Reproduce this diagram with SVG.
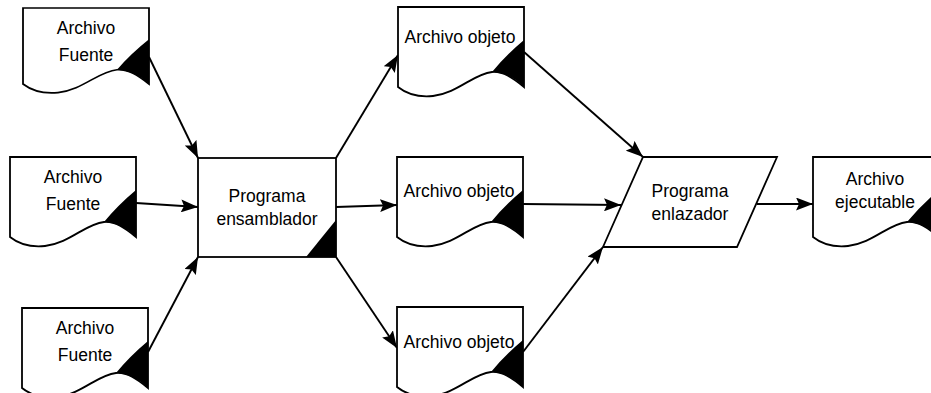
<svg xmlns="http://www.w3.org/2000/svg" width="931" height="393" viewBox="0 0 931 393">
  <style>
    .shape { fill: #ffffff; stroke: #000000; stroke-width: 1.8; }
    .mark { fill: #000000; stroke: none; }
    .label { font-family: "Liberation Sans", Arial, sans-serif; font-size: 17.5px; fill: #000000; text-anchor: middle; }
    .edge { fill: none; stroke: #000000; stroke-width: 1.9; marker-end: url(#arrow); }
  </style>
  <defs>
    <!-- document symbol: flat top, wavy bottom, 126 x 80 -->
    <path id="doc" d="M0,0 H126 V80 C115,71 105,64 94,65 C75,67 60,86 35,89 C15,91 5,84 0,80 Z"/>
    <!-- black corner flag of the document symbol -->
    <path id="docFlag" d="M126,33 Q108,48 94,65 Q112,66 126,80 Z"/>
    <marker id="arrow" markerUnits="userSpaceOnUse" markerWidth="18" markerHeight="13" refX="17" refY="6.5" orient="auto">
      <path d="M0,0 L17,6.5 L0,13 L3,6.5 Z" fill="#000000"/>
    </marker>
  </defs>

  <g id="connectors">
    <line class="edge" x1="149" y1="57" x2="198" y2="158"/>
    <line class="edge" x1="136" y1="203" x2="198" y2="207"/>
    <line class="edge" x1="148" y1="352" x2="198" y2="257"/>
    <line class="edge" x1="336" y1="158" x2="398" y2="55"/>
    <line class="edge" x1="336" y1="207" x2="397" y2="205"/>
    <line class="edge" x1="336" y1="257" x2="397" y2="348"/>
    <line class="edge" x1="524" y1="52" x2="643" y2="157"/>
    <line class="edge" x1="523" y1="204" x2="621" y2="205"/>
    <line class="edge" x1="523" y1="352" x2="603" y2="247"/>
    <line class="edge" x1="757" y1="204" x2="813" y2="204"/>
  </g>

  <g id="fuente1" transform="translate(23,8)">
    <g transform="scale(1,0.95)">
      <use href="#doc" class="shape"/>
      <use href="#docFlag" class="mark"/>
    </g>
    <text class="label" x="63" y="26">Archivo</text>
    <text class="label" x="63" y="53">Fuente</text>
  </g>

  <g id="fuente2" transform="translate(10,157)">
    <use href="#doc" class="shape"/>
    <use href="#docFlag" class="mark"/>
    <text class="label" x="63" y="26">Archivo</text>
    <text class="label" x="63" y="53">Fuente</text>
  </g>

  <g id="fuente3" transform="translate(22,308)">
    <use href="#doc" class="shape"/>
    <use href="#docFlag" class="mark"/>
    <text class="label" x="63" y="26">Archivo</text>
    <text class="label" x="63" y="53">Fuente</text>
  </g>

  <g id="ensamblador">
    <rect class="shape" x="198" y="158" width="138" height="99"/>
    <path class="mark" d="M336,220 V257 H306 Z"/>
    <text class="label" x="267" y="202">Programa</text>
    <text class="label" x="267" y="225">ensamblador</text>
  </g>

  <g id="objeto1" transform="translate(398,7)">
    <use href="#doc" class="shape"/>
    <use href="#docFlag" class="mark"/>
    <text class="label" x="62" y="36">Archivo objeto</text>
  </g>

  <g id="objeto2" transform="translate(397,157)">
    <use href="#doc" class="shape"/>
    <use href="#docFlag" class="mark"/>
    <text class="label" x="62" y="40">Archivo objeto</text>
  </g>

  <g id="objeto3" transform="translate(397,307)">
    <use href="#doc" class="shape"/>
    <use href="#docFlag" class="mark"/>
    <text class="label" x="62" y="41">Archivo objeto</text>
  </g>

  <g id="enlazador">
    <path class="shape" d="M643,157 H777 L737,247 H603 Z"/>
    <text class="label" x="690" y="197">Programa</text>
    <text class="label" x="690" y="220">enlazador</text>
  </g>

  <g id="ejecutable" transform="translate(813,157)">
    <use href="#doc" class="shape"/>
    <use href="#docFlag" class="mark"/>
    <text class="label" x="62" y="28">Archivo</text>
    <text class="label" x="62" y="51">ejecutable</text>
  </g>
</svg>
